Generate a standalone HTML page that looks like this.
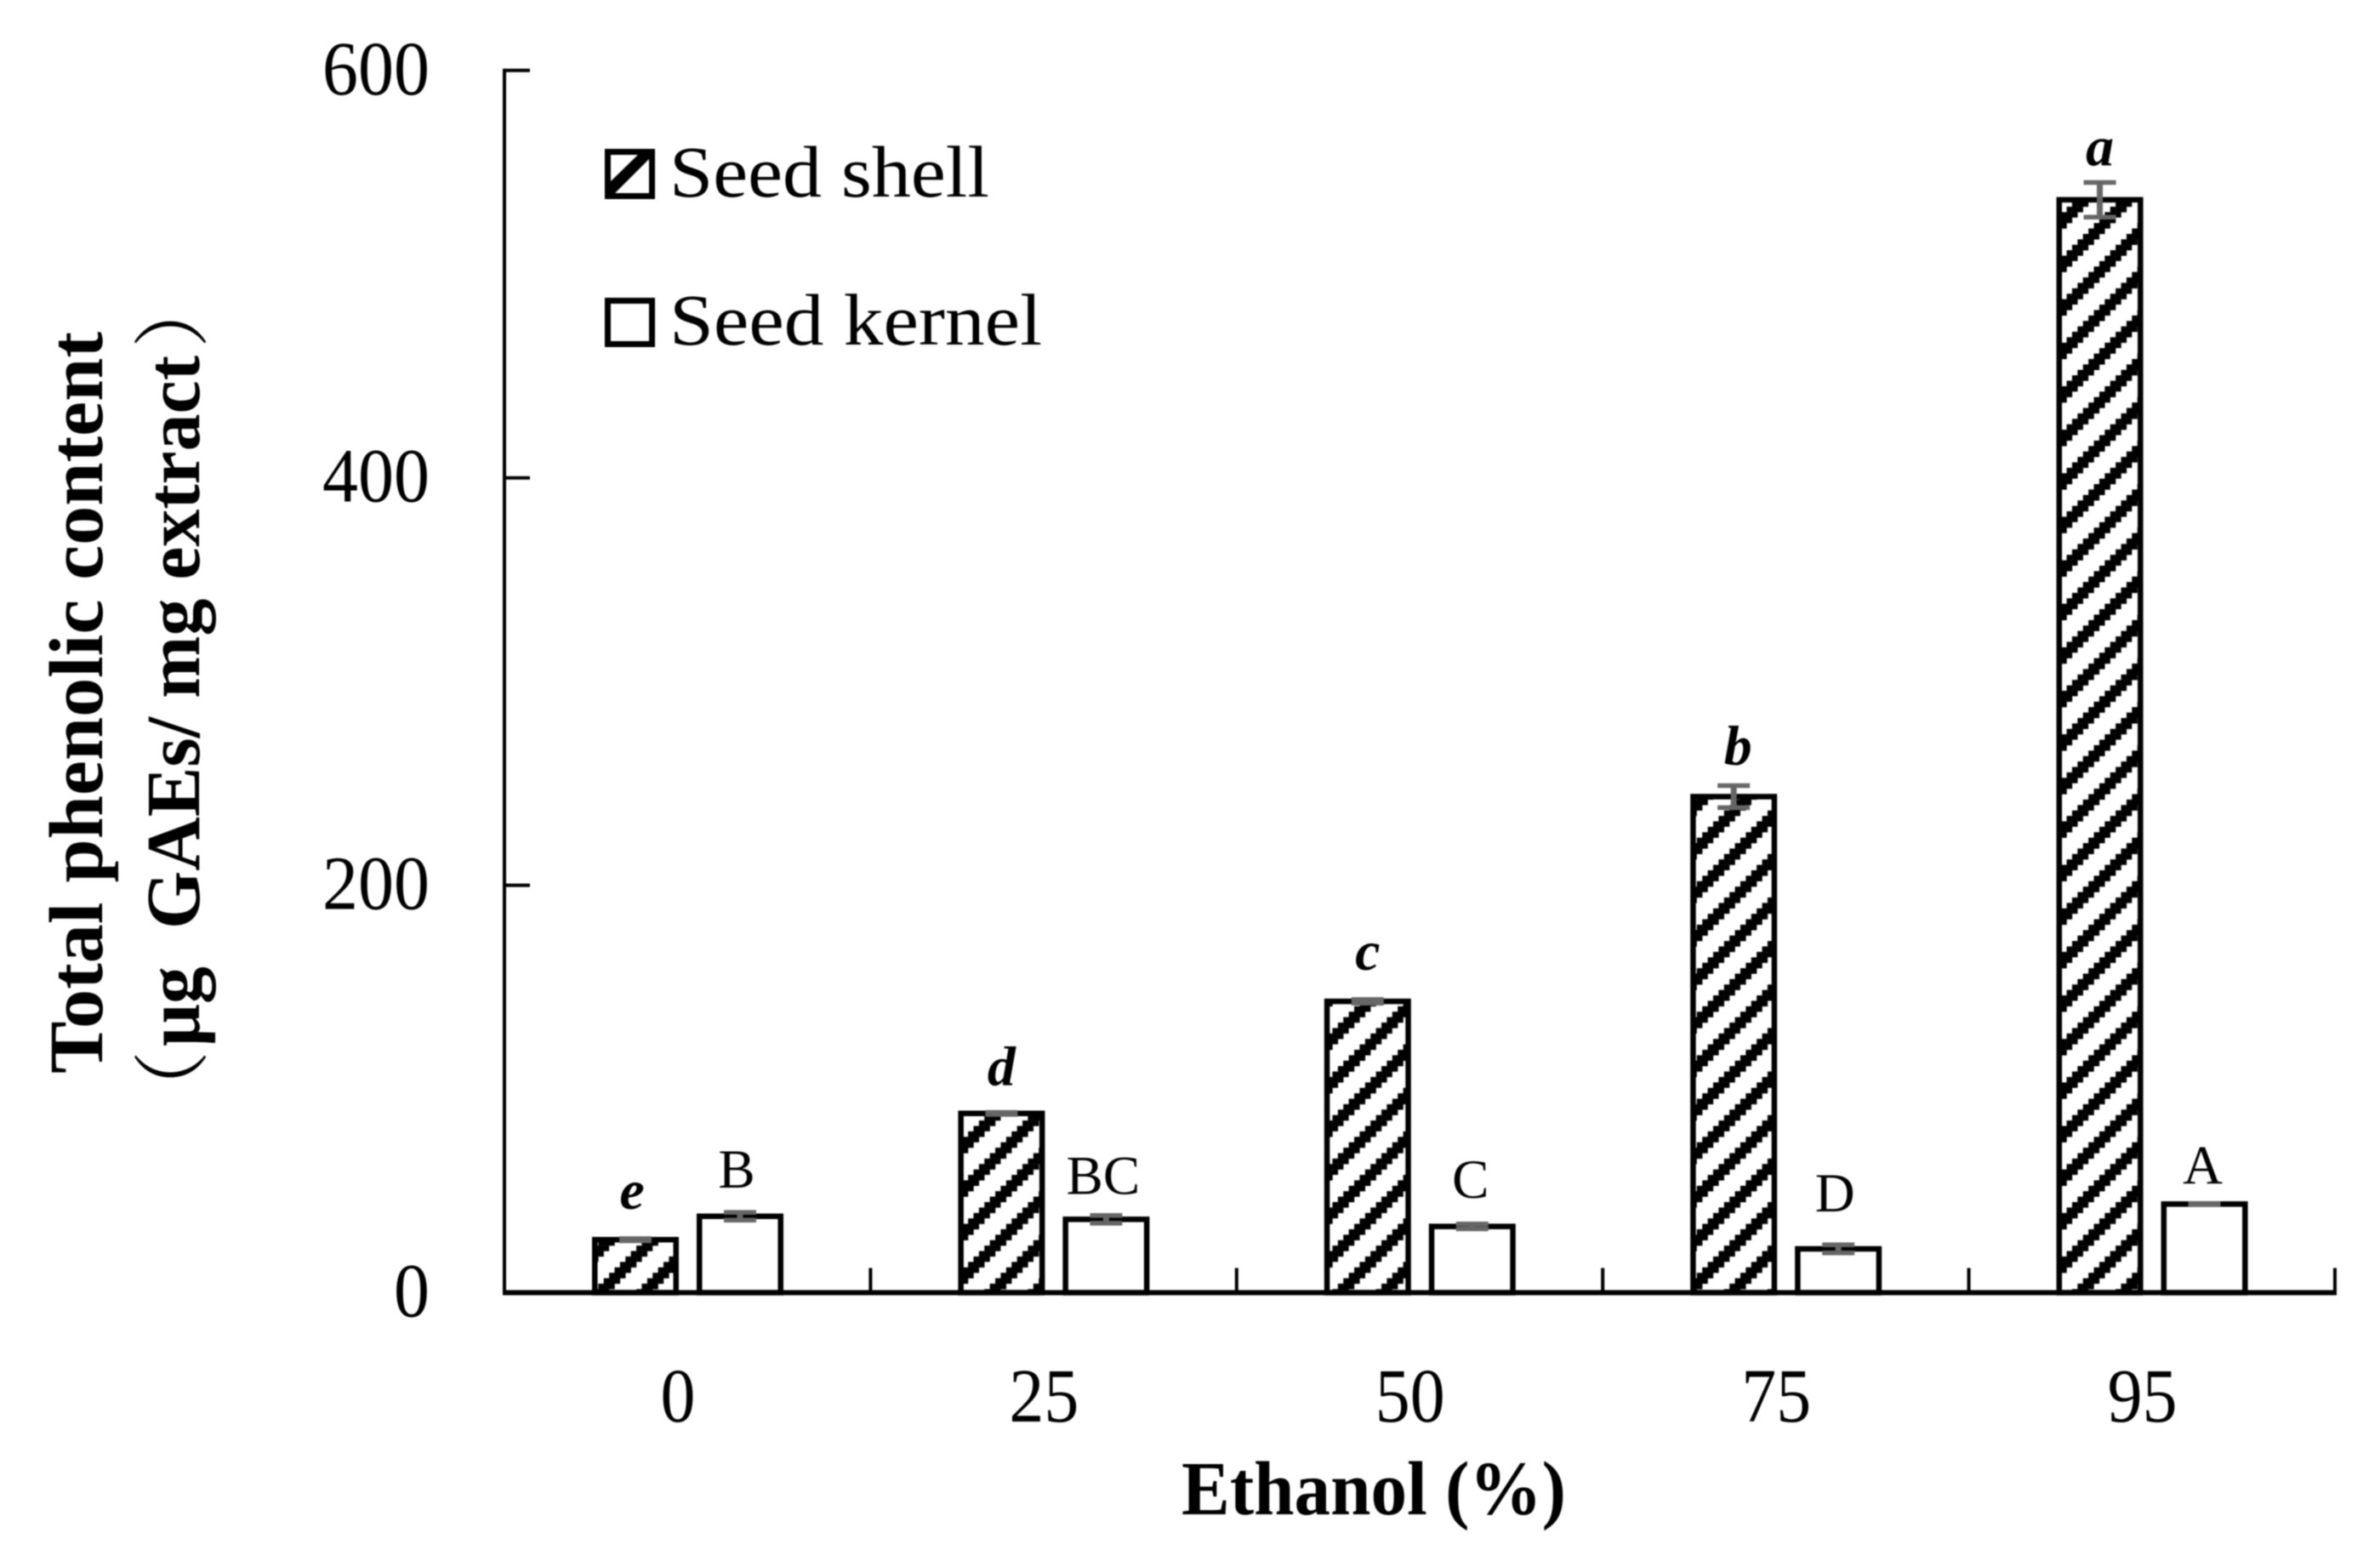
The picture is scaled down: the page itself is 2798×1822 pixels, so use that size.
<!DOCTYPE html>
<html lang="en">
<head>
<meta charset="utf-8">
<title>Total phenolic content by ethanol concentration</title>
<style>
html,body{margin:0;padding:0;background:#fff;}
#chart{display:block;width:2798px;height:1822px;filter:blur(0.7px);}
text{font-family:"Liberation Serif","Noto Serif CJK SC",serif;fill:#000;}
.tick{font-size:90px;}
.bold{font-weight:bold;font-size:90px;}
.legend-text{font-size:86px;}
.sig-lower{font-weight:bold;font-style:italic;font-size:66px;}
.sig-upper{font-size:65px;}
</style>
</head>
<body>
<svg id="chart" xmlns="http://www.w3.org/2000/svg" width="2798" height="1822" viewBox="0 0 2798 1822">
  <defs>
    <pattern id="hatch" patternUnits="userSpaceOnUse" x="0" y="0" width="51.15" height="51.15"></pattern>
  </defs>
  <rect x="0" y="0" width="2798" height="1822" fill="#fff"/>
  <g id="bars"></g>
  <g id="errors"></g>
  <g id="axes"></g>
  <g id="labels"></g>

  <g>
    <text class="bold" transform="translate(120,1262) rotate(-90)" textLength="872" lengthAdjust="spacingAndGlyphs">Total phenolic content</text>
    <text class="bold" transform="translate(234,1230) rotate(-90)" textLength="812" lengthAdjust="spacingAndGlyphs">μg&#160;&#160;GAEs/ mg extract</text>
    <text style="font-size:90px" transform="translate(234,1325) rotate(-90)">（</text>
    <text style="font-size:90px" transform="translate(234,409) rotate(-90)">）</text>
  </g>
  <text class="bold" x="1389" y="1780" textLength="452" lengthAdjust="spacingAndGlyphs">Ethanol (%)</text>

  <g>
    <g>
      <rect x="714.5" y="178.5" width="52" height="52" fill="#fff" stroke="#000" stroke-width="7"/>
      <polygon points="714,217 754,178 764,178 764,186 722,228 714,228" fill="#000"/>
      <text class="legend-text" x="787" y="231" textLength="376" lengthAdjust="spacingAndGlyphs">Seed shell</text>
    </g>
    <g>
      <rect x="714.5" y="353.5" width="52" height="51" fill="#fff" stroke="#000" stroke-width="7"/>
      <text class="legend-text" x="787" y="405" textLength="438" lengthAdjust="spacingAndGlyphs">Seed kernel</text>
    </g>
  </g>
</svg>

<script>
const categories = ["0", "25", "50", "75", "95"];
const shellValues = [26, 88, 143, 243.5, 536.5];
const kernelValues = [37.5, 36, 32.5, 21.5, 43.5];
const shellErrors = [0.5, 0.5, 0.9, 5.4, 8.5];
const kernelErrors = [1.9, 1.9, 1.2, 2, 0.3];
const shellLetters = ["e", "d", "c", "b", "a"];
const kernelLetters = ["B", "BC", "C", "D", "A"];
const yTickValues = [0, 200, 400, 600];

const SVG_NS = "http://www.w3.org/2000/svg";
function yScale(v) { return 1519.5 - v * 2.3945; }
function groupLeft(i) { return 593 + i * 430.4; }
function groupCenter(i) { return groupLeft(i) + 215.5; }

function make(tag, parent) {
  const el = document.createElementNS(SVG_NS, tag);
  parent.appendChild(el);
  return el;
}

/* hatch tile: 8x8 stair-stepped cells, a 3-cell stripe per row */
(function buildHatch() {
  const tile = document.getElementById("hatch");
  const cell = 51.15 / 8;
  const bg = make("rect", tile);
  bg.setAttribute("width", 51.15);
  bg.setAttribute("height", 51.15);
  bg.setAttribute("fill", "#fff");
  for (let r = 0; r < 8; r++) {
    const start = Math.round((22.55 - (r + 0.5) * cell) / cell - 0.5);
    for (let k = -1; k <= 1; k++) {
      const c = ((start + k) % 8 + 8) % 8;
      const px = make("rect", tile);
      px.setAttribute("x", c * cell);
      px.setAttribute("y", r * cell);
      px.setAttribute("width", cell + 0.2);
      px.setAttribute("height", cell + 0.2);
      px.setAttribute("fill", "#000");
    }
  }
})();

(function draw() {
  const barsG = document.getElementById("bars");
  const errG = document.getElementById("errors");
  const axesG = document.getElementById("axes");
  const labelsG = document.getElementById("labels");
  const barW = 95.5;
  const offset = 61.5;
  const capW = 38;
  const gapShell = [35, 32, 35, 25, 20];
  const gapKernel = [29, 25, 31, 39, 23];
  const nudgeShell = [-4, 0, 0, 5, 0];
  const nudgeKernel = [-4, -3.5, -2, -4, -2];

  categories.forEach(function (cat, i) {
    [
      { kind: "shell", values: shellValues, errs: shellErrors, letters: shellLetters, dir: -1, gaps: gapShell, nudges: nudgeShell },
      { kind: "kernel", values: kernelValues, errs: kernelErrors, letters: kernelLetters, dir: 1, gaps: gapKernel, nudges: nudgeKernel }
    ].forEach(function (s) {
      const cx = groupCenter(i) + s.dir * offset;
      const top = yScale(s.values[i]);
      const bar = make("rect", barsG);
      
      
      bar.setAttribute("x", cx - barW / 2);
      bar.setAttribute("y", top);
      bar.setAttribute("width", barW);
      bar.setAttribute("height", yScale(0) - top);
      bar.setAttribute("fill", s.kind === "shell" ? "url(#hatch)" : "#fff");
      bar.setAttribute("stroke", "#000");
      bar.setAttribute("stroke-width", "6.5");

      const hi = yScale(s.values[i] + s.errs[i]);
      const lo = yScale(s.values[i] - s.errs[i]);
      const err = make("path", errG);
      
      
      err.setAttribute("d",
        "M" + (cx - capW / 2) + " " + hi + "H" + (cx + capW / 2) +
        "M" + (cx - capW / 2) + " " + lo + "H" + (cx + capW / 2));
      err.setAttribute("stroke", "#666");
      err.setAttribute("stroke-width", "5.5");
      err.setAttribute("fill", "none");
      const stem = make("line", errG);
      
      
      stem.setAttribute("x1", cx);
      stem.setAttribute("x2", cx);
      stem.setAttribute("y1", hi);
      stem.setAttribute("y2", lo);
      stem.setAttribute("stroke", "#666");
      stem.setAttribute("stroke-width", "7");

      const letter = make("text", labelsG);
      
      
      letter.setAttribute("class", s.kind === "shell" ? "sig-lower" : "sig-upper");
      letter.setAttribute("x", cx + s.nudges[i]);
      letter.setAttribute("y", hi - s.gaps[i]);
      letter.setAttribute("text-anchor", "middle");
      letter.textContent = s.letters[i];
    });

    const tl = make("text", labelsG);
    
    
    tl.setAttribute("class", "tick");
    tl.setAttribute("x", groupCenter(i) - 11.5 - cat.length * 20.5);
    tl.setAttribute("y", 1671);
    tl.setAttribute("textLength", cat.length * 41);
    tl.setAttribute("lengthAdjust", "spacingAndGlyphs");
    tl.textContent = cat;

    const xt = make("line", axesG);
    
    
    xt.setAttribute("x1", groupLeft(i + 1));
    xt.setAttribute("x2", groupLeft(i + 1));
    xt.setAttribute("y1", yScale(0) - 29);
    xt.setAttribute("y2", yScale(0));
    xt.setAttribute("stroke", "#000");
    xt.setAttribute("stroke-width", "4");
  });

  const yStart = make("line", axesG);
  
  
  yStart.setAttribute("x1", 593);
  yStart.setAttribute("x2", 593);
  yStart.setAttribute("y1", yScale(600) - 2);
  yStart.setAttribute("y2", yScale(0));
  yStart.setAttribute("stroke", "#000");
  yStart.setAttribute("stroke-width", "4");

  const xLine = make("line", axesG);
  
  
  xLine.setAttribute("x1", 591);
  xLine.setAttribute("x2", groupLeft(categories.length) + 2);
  xLine.setAttribute("y1", yScale(0));
  xLine.setAttribute("y2", yScale(0));
  xLine.setAttribute("stroke", "#000");
  xLine.setAttribute("stroke-width", "6");

  yTickValues.forEach(function (v) {
    const t = make("line", axesG);
    
    
    t.setAttribute("x1", 593);
    t.setAttribute("x2", v === 0 ? 593 : 623);
    t.setAttribute("y1", yScale(v));
    t.setAttribute("y2", yScale(v));
    t.setAttribute("stroke", "#000");
    t.setAttribute("stroke-width", "4");

    const lab = make("text", labelsG);
    
    
    lab.setAttribute("class", "tick");
    const s = String(v);
    lab.setAttribute("x", 505 - s.length * 42);
    lab.setAttribute("y", yScale(v) + 28);
    lab.setAttribute("textLength", s.length * 42);
    lab.setAttribute("lengthAdjust", "spacingAndGlyphs");
    lab.textContent = s;
  });

  const xZero = make("line", axesG);
  
  
  xZero.setAttribute("x1", 593);
  xZero.setAttribute("x2", 593);
  xZero.setAttribute("y1", yScale(0) - 29);
  xZero.setAttribute("y2", yScale(0));
  xZero.setAttribute("stroke", "#000");
  xZero.setAttribute("stroke-width", "4");
})();
</script>
</body>
</html>
